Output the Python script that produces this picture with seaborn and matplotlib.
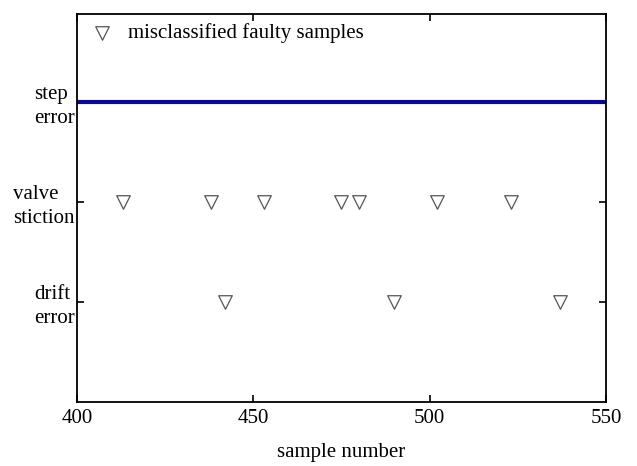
import matplotlib
matplotlib.use("Agg")
import matplotlib.pyplot as plt
import matplotlib.transforms as mtransforms
import seaborn as sns
import pandas as pd

# data
categories = ["drift\nerror", "valve\nstiction", "step\nerror"]
cat_levels = [1, 2, 3]
valve_samples = [413, 438, 453, 475, 480, 502, 523]
drift_samples = [442, 490, 537]
step_samples = [400, 550]

sns.set_theme(style="white")
plt.rcParams["font.family"] = ["Liberation Serif", "DejaVu Serif"]
plt.rcParams["mathtext.fontset"] = "stix"
plt.rcParams["text.color"] = "black"
plt.rcParams["axes.labelcolor"] = "black"
plt.rcParams["xtick.color"] = "black"
plt.rcParams["ytick.color"] = "black"

df = pd.DataFrame({
    "x": valve_samples + drift_samples,
    "y": [cat_levels[1]] * len(valve_samples) + [cat_levels[0]] * len(drift_samples),
})
step_df = pd.DataFrame({"x": step_samples, "y": [cat_levels[2]] * len(step_samples)})

fig = plt.figure(figsize=(6.37, 4.66), dpi=100)
ax = fig.add_axes([0.1209, 0.1373, 0.8304, 0.8327])

sns.lineplot(data=step_df, x="x", y="y", ax=ax, color="#0a0a8c", linewidth=3.0, zorder=2)
sns.scatterplot(data=df, x="x", y="y", ax=ax, marker="v", s=95, facecolor="white",
                edgecolor="#555555", linewidth=0.9, zorder=3,
                label="misclassified faulty samples")

ax.set_xlim(400, 550)
ax.set_ylim(0, 3.88)
ax.set_xticks([400, 450, 500, 550])
ax.set_yticks(cat_levels)
ax.set_yticklabels(categories, multialignment="left", linespacing=1.4,
                   va="center")
ax.set_xlabel("sample number", fontsize=15, labelpad=11, color="black")
ax.set_ylabel("")

ax.tick_params(axis="both", direction="in", length=5, width=1.2, labelsize=15,
               top=True, right=True, bottom=True, left=True, colors="black")
ax.tick_params(axis="x", pad=5)
ax.tick_params(axis="y", pad=1.5)
for s in ax.spines.values():
    s.set_color("black")
    s.set_linewidth(1.3)

# shift y tick labels slightly down, as in the reference
shift = mtransforms.ScaledTranslation(0, -4.5 / 100, fig.dpi_scale_trans)
for lbl in ax.get_yticklabels():
    lbl.set_color("black")
    lbl.set_transform(lbl.get_transform() + shift)

leg = ax.legend(loc="upper left", frameon=False, fontsize=15, handletextpad=0.53,
                borderaxespad=0.0, borderpad=0.45, handlelength=1.47)
for t in leg.get_texts():
    t.set_color("black")

fig.savefig("out.png", dpi=100)
